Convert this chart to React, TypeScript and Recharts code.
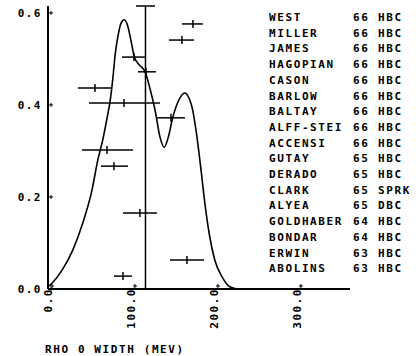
import { ComposedChart, Line, XAxis, YAxis, ReferenceLine, Scatter } from 'recharts'

const FONT = '"DejaVu Sans Mono", monospace'

// ideogram curve
const curveWidth = [0, 5, 17, 30, 42, 53, 60, 66, 71, 75, 78, 81, 85, 88, 92, 96, 100, 104, 110, 117, 123, 129, 135, 140, 145, 150, 157, 165, 171, 174, 178, 185, 189, 195, 201, 210, 219, 231, 250]
const curveLevel = [0.005, 0.013, 0.041, 0.085, 0.144, 0.215, 0.28, 0.324, 0.37, 0.41, 0.455, 0.51, 0.556, 0.578, 0.585, 0.572, 0.54, 0.505, 0.487, 0.472, 0.435, 0.389, 0.33, 0.308, 0.33, 0.37, 0.408, 0.426, 0.41, 0.392, 0.35, 0.25, 0.187, 0.113, 0.063, 0.026, 0.005, 0, 0]

// experiments
const names = ['WEST', 'MILLER', 'JAMES', 'HAGOPIAN', 'CASON', 'BARLOW', 'BALTAY', 'ALFF-STEI', 'ACCENSI', 'GUTAY', 'DERADO', 'CLARK', 'ALYEA', 'GOLDHABER', 'BONDAR', 'ERWIN', 'ABOLINS']
const years = ['66', '66', '66', '66', '66', '66', '66', '66', '66', '65', '65', '65', '65', '64', '64', '63', '63']
const methods = ['HBC', 'HBC', 'HBC', 'HBC', 'HBC', 'HBC', 'HBC', 'HBC', 'HBC', 'HBC', 'HBC', 'SPRK', 'DBC', 'HBC', 'HBC', 'HBC', 'HBC']
const widths = [174.7, 161.4, 103.6, 118.1, 56.6, 91.6, 148.2, null, 71.1, 79.5, null, null, 110.8, null, null, 167.5, 90.4]
const lows = [161.4, 145.8, 89.2, 108.4, 36.1, 49.4, 130.1, null, 41, 63.9, null, null, 90.4, null, null, 147, 79.5]
const highs = [186.7, 175.9, 116.9, 130.1, 75.9, 134.9, 165.1, null, 102.4, 96.4, null, null, 131.3, null, null, 188, 101.2]
const rowLevels = [0.576, 0.541, 0.504, 0.472, 0.437, 0.404, 0.372, 0.337, 0.302, 0.267, 0.235, 0.2, 0.165, 0.131, 0.097, 0.063, 0.028]

// average
const avgWidth = 117.5
const avgLow = 106
const avgHigh = 129
const avgTop = 0.615

const xTicks = [0, 100, 200, 300]
const yTicks = [0, 0.2, 0.4, 0.6]

const curve = curveWidth.map((x, i) => ({ x, y: curveLevel[i] }))
const points = names
  .map((name, i) => ({ name, x: widths[i], lo: lows[i], hi: highs[i], y: rowLevels[i] }))
  .filter(p => p.x !== null)

const Plus = ({ x, y }: { x: number; y: number }) => (
  <g stroke="#000" strokeWidth={1}>
    <line x1={x - 2} y1={y} x2={x + 2} y2={y} />
    <line x1={x} y1={y - 2} x2={x} y2={y + 2} />
  </g>
)

const YTick = (props: any) => {
  const { x, y, payload } = props
  return (
    <g>
      <text x={x} y={y + 4} textAnchor="end" fontFamily={FONT} fontWeight="bold" fontSize={11} letterSpacing={1.5} fill="#000">
        {payload.value.toFixed(1)}
      </text>
      <Plus x={x + 9} y={y} />
    </g>
  )
}

const XTick = (props: any) => {
  const { x, y, payload } = props
  return (
    <g>
      <text transform={`translate(${x + 4},${y - 1}) rotate(-90)`} textAnchor="end" fontFamily={FONT} fontWeight="bold" fontSize={11} letterSpacing={1.5} fill="#000">
        {payload.value.toFixed(1)}
      </text>
      <Plus x={x + 4} y={y - 3} />
    </g>
  )
}

const Marker = (props: any) => (
  <line x1={props.cx} y1={props.cy - 4} x2={props.cx} y2={props.cy + 4} stroke="#000" strokeWidth={1.5} />
)

export default function App() {
  return (
    <div style={{ position: 'absolute', left: 0, top: 0, width: 420, height: 356, background: '#fff' }}>
      <ComposedChart width={420} height={356} margin={{ top: 6, right: 70, left: 0, bottom: 27 }}>
        <XAxis
          type="number"
          dataKey="x"
          domain={[0, 364]}
          ticks={xTicks}
          tick={<XTick />}
          tickSize={0}
          tickMargin={0}
          height={40}
          axisLine={{ stroke: '#000', strokeWidth: 2 }}
          allowDataOverflow
        />
        <YAxis
          type="number"
          dataKey="y"
          domain={[0, 0.615]}
          ticks={yTicks}
          tick={<YTick />}
          tickSize={0}
          tickMargin={6}
          width={48}
          axisLine={{ stroke: '#000', strokeWidth: 2 }}
          allowDataOverflow
        />
        <Line data={curve} dataKey="y" type="monotone" stroke="#000" strokeWidth={1.6} dot={false} isAnimationActive={false} />
        {points.map(p => (
          <ReferenceLine key={p.name} segment={[{ x: p.lo, y: p.y }, { x: p.hi, y: p.y }]} stroke="#000" strokeWidth={1.5} ifOverflow="visible" />
        ))}
        <ReferenceLine segment={[{ x: avgWidth, y: 0 }, { x: avgWidth, y: avgTop }]} stroke="#000" strokeWidth={1.5} ifOverflow="visible" />
        <ReferenceLine segment={[{ x: avgLow, y: avgTop }, { x: avgHigh, y: avgTop }]} stroke="#000" strokeWidth={1.5} ifOverflow="visible" />
        <Scatter data={points} dataKey="y" shape={<Marker />} isAnimationActive={false} />
      </ComposedChart>
      <svg width={420} height={356} style={{ position: 'absolute', left: 0, top: 0, pointerEvents: 'none' }}>
        <g fontFamily={FONT} fontWeight="bold" fontSize={11} letterSpacing={1.6} fill="#000">
          {names.map((n, i) => (
            <g key={n}>
              <text x={269} y={21 + 15.7 * i}>{n}</text>
              <text x={353} y={21 + 15.7 * i}>{years[i]}</text>
              <text x={378} y={21 + 15.7 * i}>{methods[i]}</text>
            </g>
          ))}
          <text x={45} y={353}>RHO 0 WIDTH (MEV)</text>
        </g>
      </svg>
    </div>
  )
}
